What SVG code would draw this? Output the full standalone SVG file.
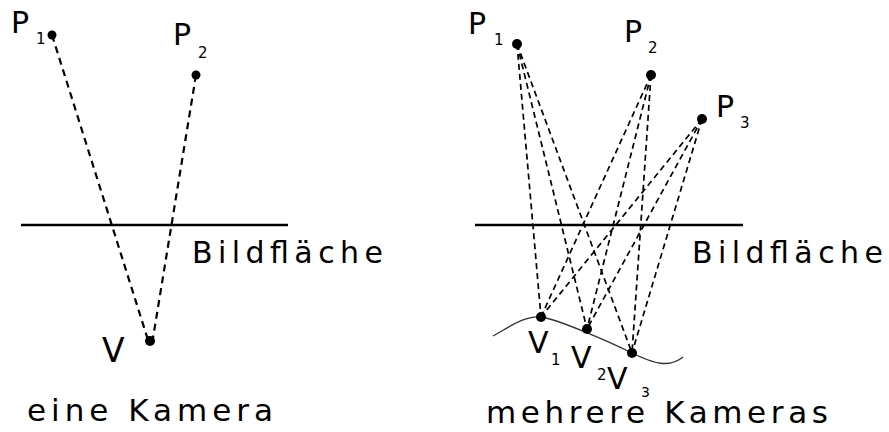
<svg xmlns="http://www.w3.org/2000/svg" width="889" height="432" viewBox="0 0 889 432">
<style>
text{font-family:"DejaVu Sans","Liberation Sans",sans-serif;fill:#000}
.lbl{font-size:30px}
.sub{font-size:15px}
.big{font-size:31px}
.dl{stroke:#000;stroke-width:2.2;stroke-dasharray:7 5;fill:none}
.dr{stroke:#000;stroke-width:1.7;stroke-dasharray:6 4;fill:none}
.plane{stroke:#000;stroke-width:2.5}
.dot{fill:#000}
</style>
<rect width="889" height="432" fill="#fff"/>
<g id="connectors">
<line class="dl" x1="52" y1="35" x2="148" y2="340"/>
<line class="dl" x1="196" y1="75" x2="153" y2="338"/>
<line class="dr" x1="517" y1="44" x2="541" y2="317"/>
<line class="dr" x1="517" y1="44" x2="587" y2="329"/>
<line class="dr" x1="517" y1="44" x2="632" y2="353"/>
<line class="dr" x1="651" y1="75" x2="541" y2="317"/>
<line class="dr" x1="651" y1="75" x2="587" y2="329"/>
<line class="dr" x1="651" y1="75" x2="632" y2="353"/>
<line class="dr" x1="702" y1="119" x2="541" y2="317"/>
<line class="dr" x1="702" y1="119" x2="587" y2="329"/>
<line class="dr" x1="702" y1="119" x2="632" y2="353"/>
</g>
<g id="left-plane">
<line class="plane" x1="21" y1="225" x2="288" y2="225"/>
<text class="lbl" x="192" y="263" textLength="191" lengthAdjust="spacing">Bildfläche</text>
</g>
<g id="left-P1"><circle class="dot" cx="52" cy="35" r="4.5"/><text class="lbl" x="11" y="33">P</text><text class="sub" x="36" y="44">1</text></g>
<g id="left-P2"><circle class="dot" cx="196" cy="75" r="4.5"/><text class="lbl" x="173" y="45">P</text><text class="sub" x="198" y="58">2</text></g>
<g id="left-V"><circle class="dot" cx="150" cy="341" r="5"/><text x="102" y="362" style="font-size:33px">V</text></g>
<text class="big" x="27" y="421" textLength="246" lengthAdjust="spacing">eine Kamera</text>
<g id="right-plane">
<line class="plane" x1="475" y1="225" x2="743" y2="225"/>
<text class="lbl" x="692" y="263" textLength="191" lengthAdjust="spacing">Bildfläche</text>
</g>
<path id="camera-path" d="M493,336 C508,328 525,315 541,317 S610,342 632,353 S670,368 683,357" fill="none" stroke="#333" stroke-width="1.3"/>
<g id="right-P1"><circle class="dot" cx="517" cy="44" r="5"/><text class="lbl" x="468" y="34">P</text><text class="sub" x="494" y="45">1</text></g>
<g id="right-P2"><circle class="dot" cx="651" cy="75" r="5"/><text class="lbl" x="624" y="42">P</text><text class="sub" x="648" y="53">2</text></g>
<g id="right-P3"><circle class="dot" cx="702" cy="119" r="5"/><text class="lbl" x="716" y="117">P</text><text class="sub" x="740" y="128">3</text></g>
<g id="V1"><circle class="dot" cx="541" cy="317" r="5"/><text class="lbl" x="528" y="353">V</text><text class="sub" x="551" y="365">1</text></g>
<g id="V2"><circle class="dot" cx="587" cy="329" r="5"/><text class="lbl" x="571" y="368">V</text><text class="sub" x="597" y="380">2</text></g>
<g id="V3"><circle class="dot" cx="632" cy="353" r="5"/><text class="lbl" x="607" y="389">V</text><text class="sub" x="641" y="397" style="font-size:14px">3</text></g>
<text class="big" x="486" y="423" textLength="342" lengthAdjust="spacing">mehrere Kameras</text>
</svg>
